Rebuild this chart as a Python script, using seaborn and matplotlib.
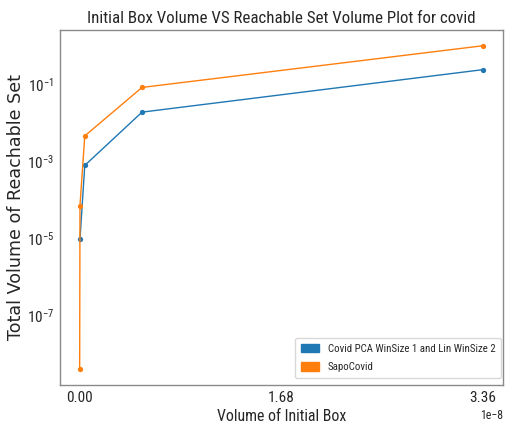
import matplotlib
matplotlib.use("Agg")
import matplotlib.pyplot as plt
from matplotlib import font_manager
from matplotlib.patches import Patch
from matplotlib.ticker import FixedLocator, NullLocator
import pandas as pd
import seaborn as sns

# Volumes of the initial box and the resulting reachable-set volumes
pca_box_volume = [3.0e-11, 4.3e-10, 5.2e-9, 3.36e-8]
pca_reach_volume = [9.5e-6, 7.9e-4, 1.9e-2, 0.24]
sapo_box_volume = [5.0e-12, 3.0e-11, 4.3e-10, 5.2e-9, 3.36e-8]
sapo_reach_volume = [4.2e-9, 7.1e-5, 4.6e-3, 8.3e-2, 1.0]

series_names = ["Covid PCA WinSize 1 and Lin WinSize 2", "SapoCovid"]
x_ticks = [0.0, 1.68e-8, 3.36e-8]
y_ticks = [1e-7, 1e-5, 1e-3, 1e-1]

sns.set_style("white")

available = {f.name for f in font_manager.fontManager.ttflist}
narrow = "DejaVu Sans"
for cand in ["Liberation Sans Narrow", "DejaVu Sans Condensed", "Roboto Condensed"]:
    if cand in available:
        narrow = cand
        break

plt.rcParams["font.family"] = [narrow, "DejaVu Sans"]
plt.rcParams["mathtext.fontset"] = "custom"
plt.rcParams["mathtext.rm"] = narrow
plt.rcParams["mathtext.it"] = narrow
plt.rcParams["mathtext.bf"] = narrow

df = pd.concat([
    pd.DataFrame({"box": pca_box_volume, "reach": pca_reach_volume,
                  "method": series_names[0]}),
    pd.DataFrame({"box": sapo_box_volume, "reach": sapo_reach_volume,
                  "method": series_names[1]}),
], ignore_index=True)

colors = ["#1f77b4", "#ff7f0e"]

fig = plt.figure(figsize=(5.13, 4.29), dpi=100)
ax = fig.add_axes([0.116, 0.1026, 0.8645, 0.8284])

sns.lineplot(data=df, x="box", y="reach", hue="method", palette=colors,
             marker="o", markersize=3.8, markeredgewidth=0, linewidth=1.0,
             sort=False, estimator=None, legend=False, ax=ax)

ax.set_yscale("log")
ax.set_xticks(x_ticks)
ax.yaxis.set_major_locator(FixedLocator(y_ticks))
ax.yaxis.set_minor_locator(NullLocator())
ax.ticklabel_format(axis="x", style="sci", scilimits=(0, 0))
ax.xaxis.get_offset_text().set_fontsize(8.5)

for s in ax.spines.values():
    s.set_color("#8a8a8a")
    s.set_linewidth(1.0)
ax.tick_params(axis="both", which="major", length=2, width=0.8,
               color="#8a8a8a", labelsize=11, pad=2)

ax.set_title("Initial Box Volume VS Reachable Set Volume Plot for covid",
             fontsize=12.2, pad=5)
ax.set_xlabel("Volume of Initial Box", fontsize=11.4, labelpad=3)
ax.set_ylabel("Total Volume of Reachable Set", fontsize=12.6,
              family="DejaVu Sans", labelpad=1)

handles = [Patch(facecolor=c, edgecolor=c) for c in colors]
leg = ax.legend(handles, series_names, loc="lower right", fontsize=7.8,
                handlelength=1.7, handleheight=0.85, labelspacing=0.75,
                borderpad=0.55, frameon=True, borderaxespad=0,
                bbox_to_anchor=(0.9966, 0.0197))
leg.get_frame().set_edgecolor("#d0d0d0")

fig.savefig("out.png", dpi=100)
